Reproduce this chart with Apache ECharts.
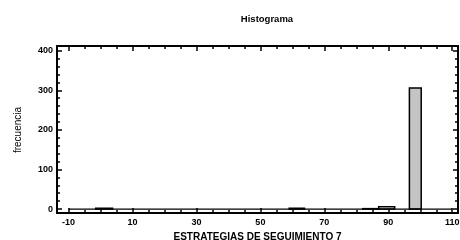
<!DOCTYPE html>
<html>
<head>
<meta charset="utf-8">
<script src="https://cdn.jsdelivr.net/npm/echarts@6/dist/echarts.min.js"></script>
<style>
  html, body { margin: 0; padding: 0; background: #fff; }
  #chart { width: 460px; height: 240px; }
</style>
</head>
<body>
<div id="chart"></div>
<script>
// histogram bins (edges) and counts
const binFrom = [-1.5, 59, 82, 87, 96.6]
const binTo = [3.8, 63.8, 87, 92, 100.3]
const counts = [2, 2, 1, 6, 306]
const baseRange = [-10, 110]

// axis ticks
const xMajor = [-10, 10, 30, 50, 70, 90, 110]
const xMinor = [-5, 0, 5, 15, 20, 25, 35, 40, 45, 55, 60, 65, 75, 80, 85, 95, 100, 105]
const yMajor = [0, 100, 200, 300, 400]
const yMinor = [20, 40, 60, 80, 120, 140, 160, 180, 220, 240, 260, 280, 320, 340, 360, 380]

const font = 'Liberation Sans, Arial, sans-serif'
const chart = echarts.init(document.getElementById('chart'))

const axisBase = (extra) => Object.assign({
  type: 'value',
  splitLine: { show: false },
  axisLine: { show: false, onZero: false },
  axisLabel: { show: false },
  axisTick: { show: false }
}, extra)

const xRange = { min: -13.6, max: 111.8 }
const yRange = { min: -10, max: 412 }
const frame = { show: true, onZero: false, lineStyle: { color: '#000', width: 2 } }

const tick = (values, len) => ({
  show: true, inside: true, length: len, customValues: values,
  lineStyle: { color: '#000', width: 1.5 }
})

const option = {
  animation: false,
  grid: { left: 57, right: 2, top: 46, bottom: 27, outerBoundsMode: 'none', containLabel: false },
  title: {
    text: 'Histograma',
    left: 262, top: 9, textAlign: 'center',
    textStyle: { fontFamily: font, fontSize: 9.5, fontWeight: 'bold', color: '#000' }
  },
  graphic: [{
    type: 'text',
    x: 18, y: 130, rotation: Math.PI / 2,
    style: {
      text: 'frecuencia', fill: '#000',
      font: '10px ' + font, align: 'center', verticalAlign: 'middle'
    }
  }],
  xAxis: [
    axisBase(Object.assign({}, xRange, {
      position: 'bottom',
      axisLine: frame,
      axisTick: tick(xMajor, 5),
      axisLabel: {
        show: true, customValues: xMajor, margin: 5,
        fontFamily: font, fontSize: 9, fontWeight: 'bold', color: '#000'
      },
      name: 'ESTRATEGIAS DE SEGUIMIENTO 7',
      nameLocation: 'middle', nameGap: 17,
      nameTextStyle: { fontFamily: font, fontSize: 10, fontWeight: 'bold', color: '#000' }
    })),
    axisBase(Object.assign({}, xRange, { position: 'bottom', axisTick: tick(xMinor, 3) })),
    axisBase(Object.assign({}, xRange, { position: 'top', axisLine: frame, axisTick: tick(xMajor, 5) })),
    axisBase(Object.assign({}, xRange, { position: 'top', axisTick: tick(xMinor, 3) }))
  ],
  yAxis: [
    axisBase(Object.assign({}, yRange, {
      position: 'left',
      axisLine: frame,
      axisTick: tick(yMajor, 5),
      axisLabel: {
        show: true, customValues: yMajor, margin: 4,
        fontFamily: font, fontSize: 9, fontWeight: 'bold', color: '#000'
      }
    })),
    axisBase(Object.assign({}, yRange, { position: 'left', axisTick: tick(yMinor, 3) })),
    axisBase(Object.assign({}, yRange, { position: 'right', axisLine: frame, axisTick: tick(yMajor, 5) })),
    axisBase(Object.assign({}, yRange, { position: 'right', axisTick: tick(yMinor, 3) }))
  ],
  series: [
    {
      type: 'line',
      xAxisIndex: 0, yAxisIndex: 0,
      symbol: 'none',
      lineStyle: { color: '#000', width: 1.2 },
      data: [[baseRange[0], 0], [baseRange[1], 0]]
    },
    {
      type: 'custom',
      xAxisIndex: 0, yAxisIndex: 0,
      renderItem: (params, api) => {
        const p0 = api.coord([api.value(0), api.value(2)])
        const p1 = api.coord([api.value(1), 0])
        return {
          type: 'rect',
          shape: { x: p0[0], y: p0[1], width: p1[0] - p0[0], height: p1[1] - p0[1] },
          style: {
            fill: api.value(2) > 50 ? '#c4c4c4' : '#fff',
            stroke: '#000', lineWidth: 1.5
          }
        }
      },
      data: binFrom.map((f, i) => [f, binTo[i], counts[i]])
    }
  ]
}

chart.setOption(option)
</script>
</body>
</html>
